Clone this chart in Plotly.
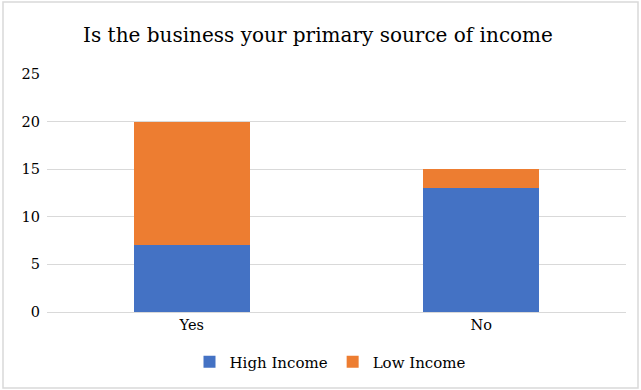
import plotly.graph_objects as go

# Survey responses: is the business the primary source of income?
categories = ["Yes", "No"]
high_income = [7, 13]
low_income = [13, 2]
y_ticks = [0, 5, 10, 15, 20, 25]

W, H = 641, 390
ML, MR, MT, MB = 47, 15, 74, 78
plot_w = W - ML - MR
plot_h = H - MT - MB

serif = "DejaVu Serif"

fig = go.Figure()
fig.add_trace(go.Bar(name="High Income", x=categories, y=high_income,
                     marker=dict(color="#4472c4", line=dict(width=0))))
fig.add_trace(go.Bar(name="Low Income", x=categories, y=low_income,
                     marker=dict(color="#ed7d31", line=dict(width=0))))

# Outer chart-area frame in paper coordinates
def px_to_paper_x(px):
    return (px - ML) / plot_w

def px_to_paper_y(py):
    return (H - MB - py) / plot_h

fig.add_shape(type="rect", xref="paper", yref="paper",
              x0=px_to_paper_x(3), x1=px_to_paper_x(638),
              y0=px_to_paper_y(388), y1=px_to_paper_y(2),
              line=dict(color="#d9d9d9", width=1.5), fillcolor="rgba(0,0,0,0)",
              layer="below")

fig.update_layout(
    width=W, height=H,
    margin=dict(l=ML, r=MR, t=MT, b=MB),
    barmode="stack",
    bargap=0.6,
    paper_bgcolor="white",
    plot_bgcolor="white",
    title=dict(text="Is the business your primary source of income",
               x=318 / W, xref="container", xanchor="center",
               y=1 - 35 / H, yanchor="middle",
               font=dict(family=serif, size=20, color="#000000")),
    font=dict(family=serif, size=15, color="#000000"),
    xaxis=dict(showgrid=False, showline=True, linecolor="#d9d9d9", linewidth=1,
               ticks="", tickfont=dict(family=serif, size=14.5, color="#000000"),
               fixedrange=True),
    yaxis=dict(range=[0, 25], tickvals=y_ticks, showgrid=True,
               gridcolor="#d9d9d9", gridwidth=1, zeroline=False,
               showline=False, ticks="", ticklabelstandoff=6,
               tickfont=dict(family=serif, size=14.5, color="#000000"),
               fixedrange=True),
    legend=dict(orientation="h", x=330 / plot_w - ML / plot_w, xanchor="center",
                y=px_to_paper_y(362), yanchor="middle",
                font=dict(family=serif, size=15, color="#000000"),
                itemwidth=30, traceorder="normal"),
    showlegend=True,
)

fig.write_html("out.html")
